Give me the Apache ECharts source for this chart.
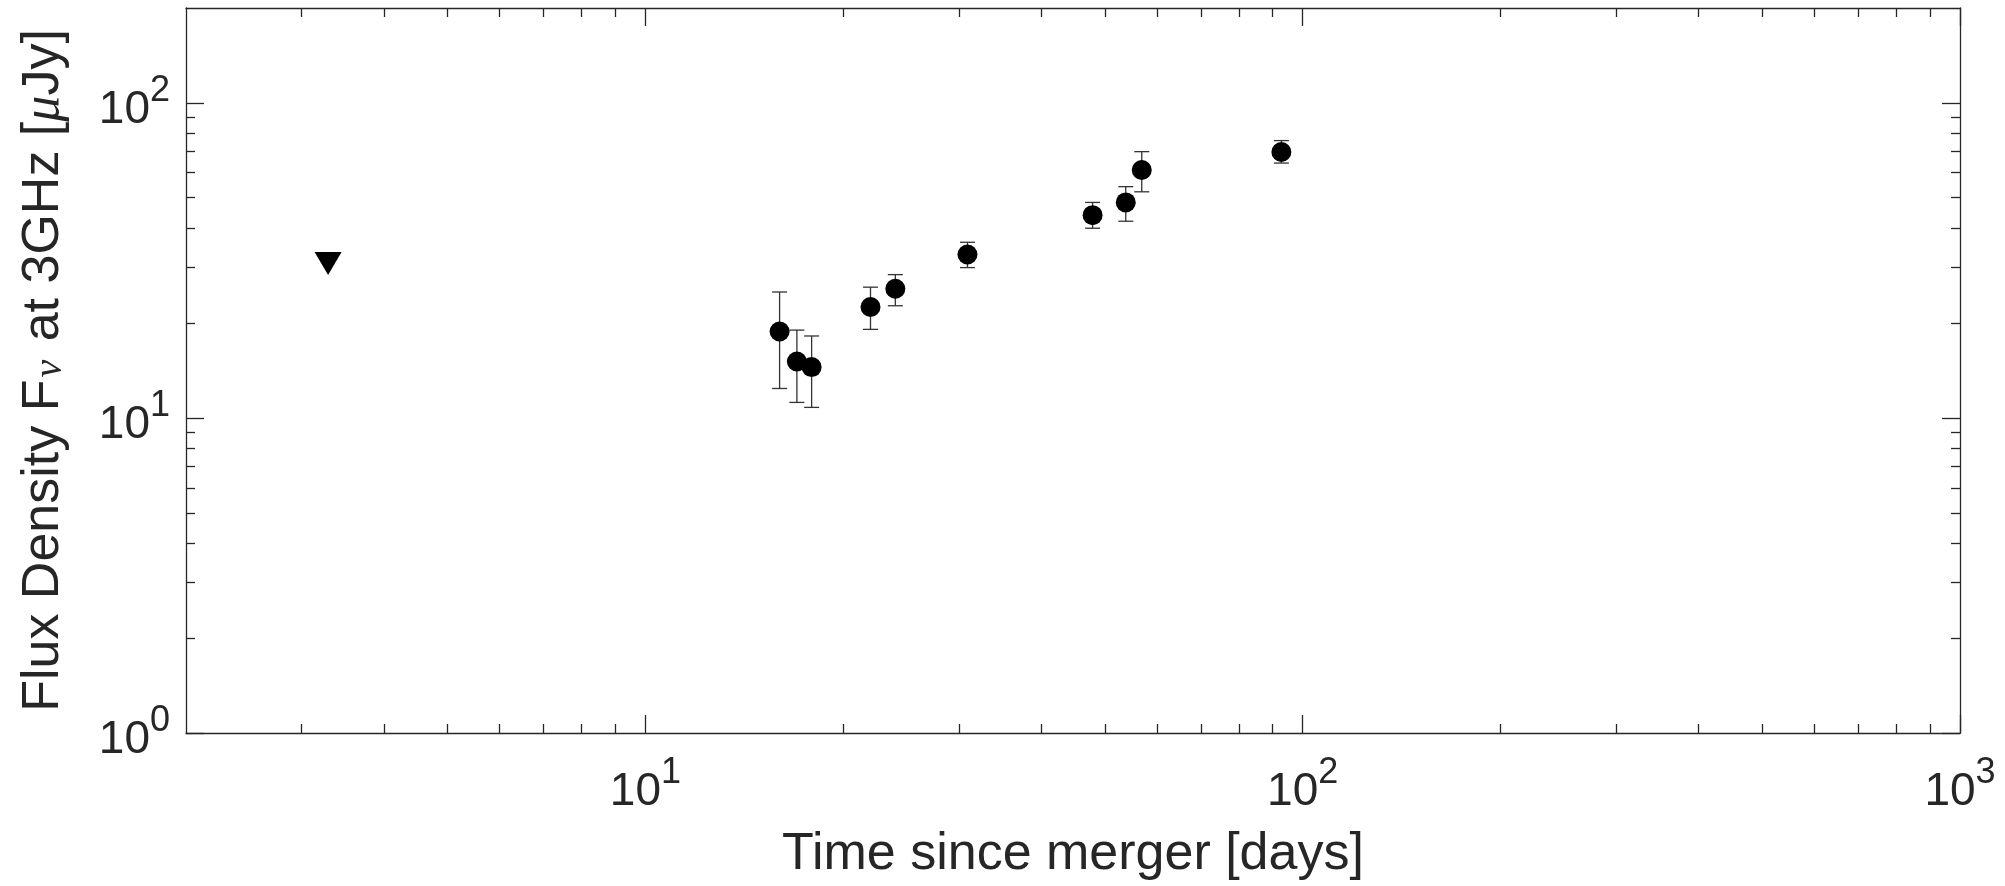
<!DOCTYPE html>
<html><head><meta charset="utf-8">
<script src="https://cdn.jsdelivr.net/npm/echarts@6/dist/echarts.min.js"></script>
<style>html,body{margin:0;padding:0;background:#fff}#c{width:2005px;height:886px}</style>
</head><body><div id="c"></div>
<script>
// Detections (days since merger, flux density in microJy, error bar ends)
const days     = [16.0, 17.0, 17.9, 22.0, 24.0, 30.9, 47.9, 53.8, 56.9, 92.8];
const flux     = [18.8, 15.1, 14.5, 22.5, 25.7, 33.0, 44.0, 48.3, 61.2, 69.8];
const fluxLow  = [12.4, 11.2, 10.8, 19.1, 22.7, 30.0, 40.0, 42.1, 52.2, 64.4];
const fluxHigh = [25.1, 19.0, 18.2, 26.0, 28.5, 36.1, 48.3, 54.2, 70.0, 75.9];
// Upper limit
const limitDays = [3.29];
const limitFlux = [30.9];
// Axis ticks
const xMajorTicks = [10, 100, 1000];
const xMinorTicks = [3,4,5,6,7,8,9,20,30,40,50,60,70,80,90,200,300,400,500,600,700,800,900];
const yMajorTicks = [1, 10, 100];
const yMinorTicks = [2,3,4,5,6,7,8,9,20,30,40,50,60,70,80,90];

const INK = '#262626';
const FONT = 'Liberation Sans';
const axisLineStyle = {color: INK, width: 1.3};
const tickStyle = {color: INK, width: 1.3};
const richLabel = {
  b: {fontSize: 46, fontFamily: FONT, color: INK, lineHeight: 46, verticalAlign: 'bottom'},
  s: {fontSize: 36, fontFamily: FONT, color: INK, padding: [0, 0, 24, 0], verticalAlign: 'top'}
};
function powLabel(v) {
  return '{b|10}{s|' + Math.round(Math.log10(v)) + '}';
}
function makeAxis(kind, position, major, withLine, withLabel, range) {
  return {
    type: 'log', logBase: 10, min: range[0], max: range[1], position: position,
    axisLine: {show: withLine, onZero: false, lineStyle: axisLineStyle},
    axisTick: {show: true, inside: true, length: major ? 18 : 9,
      customValues: kind === 'x' ? (major ? xMajorTicks : xMinorTicks) : (major ? yMajorTicks : yMinorTicks),
      lineStyle: tickStyle},
    axisLabel: withLabel ? {show: true, customValues: kind === 'x' ? xMajorTicks : yMajorTicks,
      formatter: powLabel, rich: richLabel, margin: kind === 'x' ? 22 : 16} : {show: false},
    splitLine: {show: false},
    minorTick: {show: false}
  };
}
const xRange = [2, 1000];
const yRange = [1, 200];
const xAxes = [
  Object.assign(makeAxis('x', 'bottom', true, true, true, xRange), {
    name: 'Time since merger [days]', nameLocation: 'middle', nameGap: 96,
    nameTextStyle: {fontSize: 52, fontFamily: FONT, color: INK}
  }),
  makeAxis('x', 'bottom', false, false, false, xRange),
  makeAxis('x', 'top', true, true, false, xRange),
  makeAxis('x', 'top', false, false, false, xRange)
];
const yAxes = [
  Object.assign(makeAxis('y', 'left', true, true, true, yRange), {
    name: 'Flux Density F{sub|ν} at 3GHz [{mu|μ}Jy]', nameLocation: 'middle', nameGap: 116,
    nameTextStyle: {fontSize: 52, fontFamily: FONT, color: INK, lineHeight: 52,
      rich: {
        sub: {fontSize: 40, fontFamily: 'Liberation Serif', fontStyle: 'italic', color: INK, lineHeight: 40, padding: [40, 4, 0, 2], verticalAlign: 'bottom'},
        mu: {fontSize: 52, fontFamily: 'Liberation Serif', fontStyle: 'italic', color: INK, lineHeight: 52}
      }}
  }),
  makeAxis('y', 'left', false, false, false, yRange),
  makeAxis('y', 'right', true, true, false, yRange),
  makeAxis('y', 'right', false, false, false, yRange)
];

const chart = echarts.init(document.getElementById('c'), null, {renderer: 'canvas'});
chart.setOption({
  animation: false,
  backgroundColor: '#ffffff',
  grid: {left: 186, right: 45, top: 8, bottom: 153, containLabel: false, outerBoundsMode: 'none'},
  xAxis: xAxes,
  yAxis: yAxes,
  series: [
    {
      type: 'custom', xAxisIndex: 0, yAxisIndex: 0,
      data: days.map((d, i) => [d, fluxLow[i], fluxHigh[i]]),
      encode: {x: 0, y: [1, 2]},
      renderItem: function (params, api) {
        const x = api.value(0);
        const pLo = api.coord([x, api.value(1)]);
        const pHi = api.coord([x, api.value(2)]);
        const hw = 7.5;
        const st = {stroke: '#333333', lineWidth: 1.3};
        return {type: 'group', children: [
          {type: 'line', shape: {x1: pLo[0], y1: pLo[1], x2: pHi[0], y2: pHi[1]}, style: st},
          {type: 'line', shape: {x1: pLo[0] - hw, y1: pLo[1], x2: pLo[0] + hw, y2: pLo[1]}, style: st},
          {type: 'line', shape: {x1: pHi[0] - hw, y1: pHi[1], x2: pHi[0] + hw, y2: pHi[1]}, style: st}
        ]};
      },
      z: 2
    },
    {
      type: 'scatter', xAxisIndex: 0, yAxisIndex: 0,
      data: days.map((d, i) => [d, flux[i]]),
      symbol: 'circle', symbolSize: 20,
      itemStyle: {color: '#000000', opacity: 1}, z: 3
    },
    {
      type: 'scatter', xAxisIndex: 0, yAxisIndex: 0,
      data: limitDays.map((d, i) => [d, limitFlux[i]]),
      symbol: 'triangle', symbolSize: [27, 23], symbolRotate: 180,
      itemStyle: {color: '#000000', opacity: 1}, z: 3
    }
  ]
});
</script>
</body></html>
